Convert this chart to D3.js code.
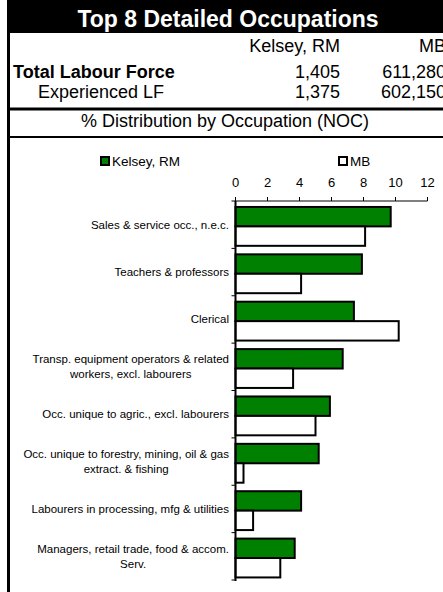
<!DOCTYPE html>
<html>
<head>
<meta charset="utf-8">
<script src="https://cdn.jsdelivr.net/npm/d3@7"></script>
<style>
  body { margin: 0; background: #fff; }
  text { font-family: Arial, "Liberation Sans", sans-serif; }
</style>
</head>
<body>
<div id="chart"></div>
<script>
//Table values
var tableTitle = "Top 8 Detailed Occupations";
var tableCols = ["Kelsey, RM", "MB"];
var totalLF = [1405, 611280];
var experiencedLF = [1375, 602150];
var subTitle = "% Distribution by Occupation (NOC)";

//Chart values (line breaks as in the original labels)
var categories = [
    "Sales & service occ., n.e.c.",
    "Teachers & professors",
    "Clerical",
    "Transp. equipment operators & related\nworkers, excl. labourers",
    "Occ. unique to agric., excl. labourers",
    "Occ. unique to forestry, mining, oil & gas\nextract. & fishing",
    "Labourers in processing, mfg & utilities",
    "Managers, retail trade, food & accom.\nServ."
];
var seriesNames = ["Kelsey, RM", "MB"];
var kelsey = [9.7, 7.9, 7.4, 6.7, 5.9, 5.2, 4.1, 3.7];
var mb = [8.1, 4.1, 10.2, 3.6, 5.0, 0.5, 1.1, 2.8];
var xTicks = [0, 2, 4, 6, 8, 10, 12];

var width = 443;
var height = 592;
var left = 7;
var fmt = d3.format(",");
var green = "#008000";

var svg = d3.select("#chart").append("svg")
    .attr("width", width)
    .attr("height", height);

//Title bar
svg.append("rect")
    .attr("x", left).attr("y", 0)
    .attr("width", width - left).attr("height", 33)
    .attr("fill", "#000");
svg.append("text")
    .attr("x", 228).attr("y", 27)
    .attr("text-anchor", "middle")
    .attr("fill", "#fff")
    .style("font-size", "23px")
    .style("font-weight", "bold")
    .text(tableTitle);

//Header rows
var colRight = [340, 446];
svg.selectAll(".colHead").data(tableCols).enter().append("text")
    .attr("x", function(d, i) { return colRight[i]; })
    .attr("y", 52)
    .attr("text-anchor", "end")
    .style("font-size", "18px")
    .text(function(d) { return d; });

svg.append("text")
    .attr("x", 13).attr("y", 78)
    .style("font-size", "18px")
    .style("font-weight", "bold")
    .text("Total Labour Force");
svg.selectAll(".totVal").data(totalLF).enter().append("text")
    .attr("x", function(d, i) { return colRight[i]; })
    .attr("y", 78)
    .attr("text-anchor", "end")
    .style("font-size", "18px")
    .text(function(d) { return fmt(d); });

svg.append("text")
    .attr("x", 38).attr("y", 98)
    .style("font-size", "18px")
    .text("Experienced LF");
svg.selectAll(".expVal").data(experiencedLF).enter().append("text")
    .attr("x", function(d, i) { return colRight[i]; })
    .attr("y", 98)
    .attr("text-anchor", "end")
    .style("font-size", "18px")
    .text(function(d) { return fmt(d); });

//Rules and left border
svg.append("rect").attr("x", left).attr("y", 107.5).attr("width", width - left).attr("height", 3).attr("fill", "#000");
svg.append("rect").attr("x", left).attr("y", 136).attr("width", width - left).attr("height", 2).attr("fill", "#000");
svg.append("rect").attr("x", left).attr("y", 33).attr("width", 3).attr("height", height - 33).attr("fill", "#000");

svg.append("text")
    .attr("x", 225).attr("y", 127)
    .attr("text-anchor", "middle")
    .style("font-size", "18px")
    .text(subTitle);

//Scales
var x = d3.scaleLinear().domain([0, 12]).range([235.5, 427.5]);
var y = d3.scaleBand().domain(categories).range([201, 580])
    .paddingInner(0.18).paddingOuter(0.09).align(0.7);
var step = y.step();
var barH = y.bandwidth() / 2;

//Legend
var legendX = [100, 338];
var legend = svg.selectAll(".legend").data(seriesNames).enter().append("g")
    .attr("transform", function(d, i) { return "translate(" + legendX[i] + ",157)"; });
legend.append("rect")
    .attr("x", 1).attr("y", 0)
    .attr("width", 8).attr("height", 8)
    .attr("fill", function(d, i) { return i === 0 ? green : "#fff"; })
    .attr("stroke", "#000")
    .attr("stroke-width", 2);
legend.append("text")
    .attr("x", 12).attr("y", 9)
    .style("font-size", "13.5px")
    .text(function(d) { return d; });

//Top value axis
svg.append("line")
    .attr("x1", x(0)).attr("x2", x(12))
    .attr("y1", 201).attr("y2", 201)
    .attr("stroke", "#808080").attr("stroke-width", 2);
svg.selectAll(".xtick").data(xTicks).enter().append("line")
    .attr("x1", function(d) { return x(d); })
    .attr("x2", function(d) { return x(d); })
    .attr("y1", 197).attr("y2", 201)
    .attr("stroke", "#000").attr("stroke-width", 1);
svg.selectAll(".xlabel").data(xTicks).enter().append("text")
    .attr("x", function(d) { return x(d); })
    .attr("y", 187)
    .attr("text-anchor", "middle")
    .style("font-size", "13px")
    .text(function(d) { return d; });

//Bars
var rows = svg.selectAll(".row").data(categories).enter().append("g")
    .attr("transform", function(d) { return "translate(0," + y(d) + ")"; });
rows.append("rect")
    .attr("x", x(0))
    .attr("y", 0)
    .attr("width", function(d, i) { return x(kelsey[i]) - x(0); })
    .attr("height", barH)
    .attr("fill", green)
    .attr("stroke", "#000")
    .attr("stroke-width", 2);
rows.append("rect")
    .attr("x", x(0))
    .attr("y", barH)
    .attr("width", function(d, i) { return x(mb[i]) - x(0); })
    .attr("height", barH)
    .attr("fill", "#fff")
    .attr("stroke", "#000")
    .attr("stroke-width", 2);

//Category axis
svg.append("line")
    .attr("x1", x(0)).attr("x2", x(0))
    .attr("y1", 201).attr("y2", 581)
    .attr("stroke", "#000").attr("stroke-width", 2);
svg.selectAll(".ytick").data(d3.range(categories.length + 1)).enter().append("line")
    .attr("x1", x(0) - 4).attr("x2", x(0))
    .attr("y1", function(d) { return 201 + d * step; })
    .attr("y2", function(d) { return 201 + d * step; })
    .attr("stroke", "#000").attr("stroke-width", 1);

//Category labels, centred blocks with right edge at the axis
var labels = svg.selectAll(".ylabel").data(categories).enter().append("text")
    .attr("text-anchor", "middle")
    .style("font-size", "11.5px")
    .attr("fill", "#000");
labels.each(function(d, i) {
    var t = d3.select(this);
    var lines = d.split("\n");
    var cy = 201 + step * (i + 0.5);
    lines.forEach(function(line, j) {
        t.append("tspan")
            .attr("y", cy + (j - (lines.length - 1) / 2) * 15 + 4)
            .text(line);
    });
    //Measure widest line to align the block on the right
    var w = 0;
    t.selectAll("tspan").each(function() {
        w = Math.max(w, this.getComputedTextLength());
    });
    t.selectAll("tspan").attr("x", 229 - w / 2);
});
</script>
</body>
</html>
